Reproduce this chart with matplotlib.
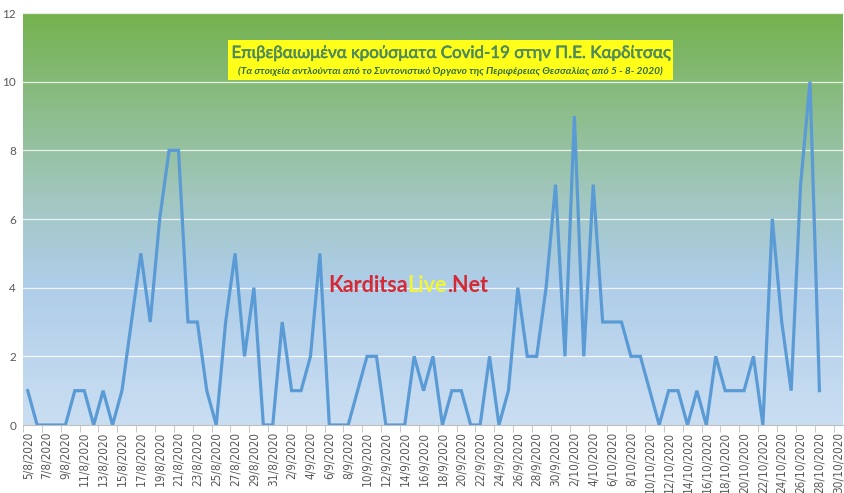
import numpy as np
import matplotlib
matplotlib.use("Agg")
from matplotlib import pyplot as plt
from matplotlib.colors import LinearSegmentedColormap
import matplotlib.patheffects as pe
import datetime as dt

plt.rcParams['font.family'] = ['Lato', 'DejaVu Sans']

# daily confirmed cases, 5/8/2020 .. 28/10/2020
cases = [1, 0, 0, 0, 0, 1, 1, 0, 1, 0,
         1, 3, 5, 3, 6, 8, 8, 3, 3, 1,
         0, 3, 5, 2, 4, 0, 0, 3, 1, 1,
         2, 5, 0, 0, 0, 1, 2, 2, 0, 0,
         0, 2, 1, 2, 0, 1, 1, 0, 0, 2,
         0, 1, 4, 2, 2, 4, 7, 2, 9, 2,
         7, 3, 3, 3, 2, 2, 1, 0, 1, 1,
         0, 1, 0, 2, 1, 1, 1, 2, 0, 6,
         3, 1, 7, 10, 1]

start = dt.date(2020, 8, 5)
n_days = 87  # axis runs to 30/10/2020
dates = [start + dt.timedelta(days=i) for i in range(n_days)]
labels = ["%d/%d/%d" % (d.day, d.month, d.year) for d in dates]

title = "Επιβεβαιωμένα κρούσματα Covid-19 στην Π.Ε. Καρδίτσας"
subtitle = "(Τα στοιχεία αντλούνται από το Συντονιστικό Όργανο της Περιφέρειας Θεσσαλίας από 5 - 8- 2020)"

fig = plt.figure(figsize=(8.45, 4.93), dpi=100)
ax = fig.add_axes([23 / 845, 1 - 425 / 493, 820 / 845, 412 / 493])

# gradient background (bottom blue -> top green)
cmap = LinearSegmentedColormap.from_list(
    "bg", [(0.0, "#cadef2"), (0.35, "#aecde8"), (0.55, "#a2c7c0"), (1.0, "#74b24e")])
grad = np.linspace(0, 1, 256).reshape(-1, 1)
ax.imshow(grad, cmap=cmap, origin="lower", aspect="auto",
          extent=[0, 1, 0, 1], transform=ax.transAxes, zorder=0)

for v in range(2, 13, 2):
    ax.axhline(v, color="white", lw=0.9, alpha=0.8, zorder=1)

x = np.arange(len(cases))
ax.plot(x, cases, color="#5b9bd5", lw=2.3, solid_joinstyle="miter", zorder=3)

ax.set_xlim(-0.5, n_days - 0.5)
ax.set_ylim(0, 12)
ax.set_yticks(range(0, 13, 2))
ax.set_xticks(np.arange(0, n_days, 2))
ax.set_xticklabels(labels[::2], rotation=90, fontsize=8.5, color="#595959",
                   family=['DejaVu Sans'], fontstretch='condensed')
ax.set_xticks(np.arange(-0.5, n_days, 2), minor=True)
ax.tick_params(axis="x", which="major", length=0, pad=5)
ax.tick_params(axis="x", which="minor", length=5, color="#bfbfbf")
ax.tick_params(axis="y", length=0, labelsize=8.5, colors="#595959", pad=5)
for s in ["top", "right", "left"]:
    ax.spines[s].set_visible(False)
ax.spines["bottom"].set_color("#bfbfbf")

# title box
ax.add_patch(plt.Rectangle((0.25, 0.837), 0.543, 0.097, transform=ax.transAxes,
                           fc="#ffff1a", ec="none", zorder=4))
ax.text(0.5215, 0.903, title, transform=ax.transAxes, ha="center", va="center",
        fontsize=12.2, color="#4f8a5a", zorder=5,
        path_effects=[pe.withStroke(linewidth=0.4, foreground="#4f8a5a")])
ax.text(0.5215, 0.859, subtitle, transform=ax.transAxes, ha="center", va="center",
        fontsize=7.3, color="#2f6b34", fontweight="bold", style="italic", zorder=6)

# watermark
parts = [("Karditsa", "#d42a35"), ("Live", "#eef53c"), (".Net", "#d42a35")]
xpos = 328
fig.canvas.draw()
for txt, col in parts:
    t = fig.text(xpos / 845, 1 - 285 / 493, txt, fontsize=15.5, fontweight="bold",
                 color=col, va="center", ha="left")
    bb = t.get_window_extent(renderer=fig.canvas.get_renderer())
    xpos += bb.width

fig.savefig("out.png", dpi=100)
